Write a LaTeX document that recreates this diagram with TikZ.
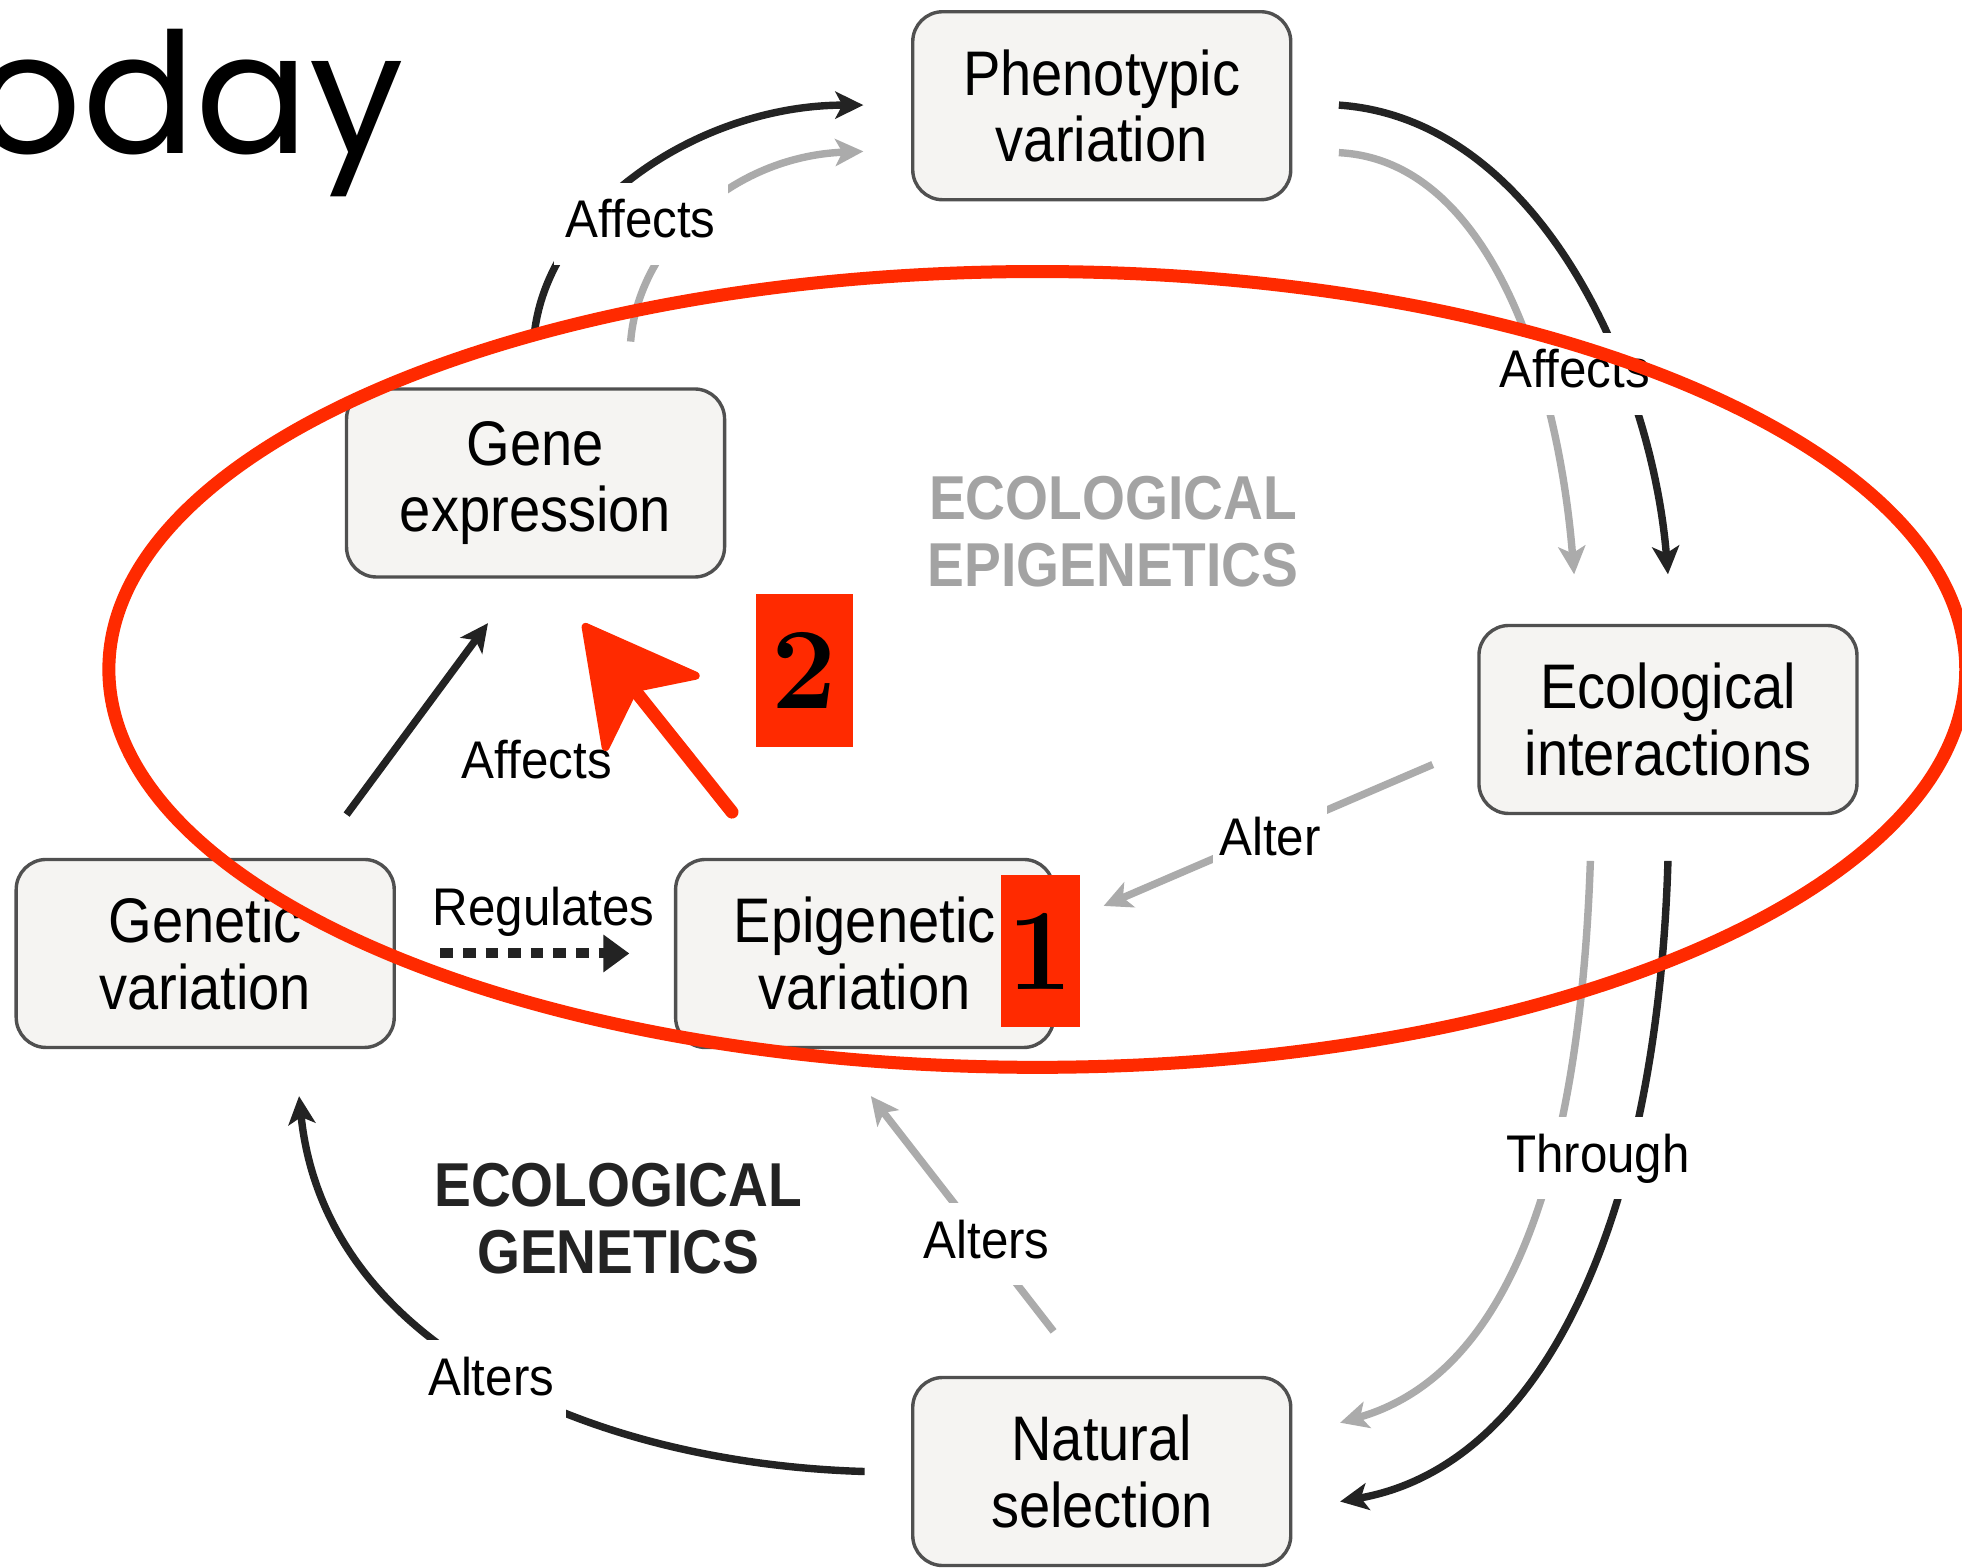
\documentclass[tikz,border=0pt]{standalone}
\usepackage{fontspec}
\newfontfamily\boxfont[FakeStretch=0.89]{Liberation Sans}
\newfontfamily\labfont[FakeStretch=0.93]{Liberation Sans}
\newfontfamily\popfont{Poppins}
\usetikzlibrary{arrows.meta}
\definecolor{blk}{HTML}{232323}
\definecolor{gry}{HTML}{ABABAB}
\definecolor{boxfill}{HTML}{F5F4F2}
\definecolor{boxdraw}{HTML}{505050}
\definecolor{epigray}{HTML}{A3A3A3}
\definecolor{redc}{HTML}{FF2A00}
\begin{document}
\begin{tikzpicture}[x=0.6256pt,y=-0.6256pt,
  box/.style={draw=boxdraw, line width=1.7pt, fill=boxfill, rounded corners=15pt,
    minimum width=189pt, minimum height=94pt, align=center, inner sep=0pt,
    font=\boxfont\fontsize{31.5}{33.2}\selectfont},
  lab/.style={font=\labfont\fontsize{26.5}{28}\selectfont, inner sep=0pt,
    text height=19.5pt, text depth=5.5pt},
  labw/.style={lab, fill=white, inner xsep=6pt, inner ysep=8pt},
  bigtxt/.style={font=\boxfont\bfseries\fontsize{31}{33.2}\selectfont, align=center, inner sep=0pt},
  tipS/.style={-{Stealth[length=14pt,width=13.5pt,inset=3.5pt]}},
  blkarrow/.style={draw=blk, line width=3.7pt, tipS},
  gryarrow/.style={draw=gry, line width=3.7pt, tipS},
  numbox/.style={fill=redc, inner sep=0pt, minimum height=76.3pt,
    font=\bfseries\fontsize{58}{58}\selectfont}
]
\fill[white] (0,0) rectangle (1568,1253);
\useasboundingbox (0,0) rectangle (1568,1253);

% title fragment
\node[anchor=base east, inner sep=0pt, font=\popfont\fontsize{84}{84}\selectfont] (title) at (323,123) {today};

% boxes
\node[box] (pheno)   at (880.5,84.5) {Phenotypic\\variation};
\node[box] (gene)    at (428,386)    {Gene\\expression};
\node[box] (eco)     at (1333,575)   {Ecological\\interactions};
\node[box] (genetic) at (164,762)    {Genetic\\variation};
\node[box] (epi)     at (691,762)    {Epigenetic\\variation};
\node[box] (nat)     at (880.5,1176) {Natural\\selection};

% connector end points
\coordinate (geneUpB) at (427,267);
\coordinate (geneUpG) at (504,273);
\coordinate (phenoInB) at (690,84);
\coordinate (phenoInG) at (690,121);
\coordinate (phenoOutB) at (1070,84);
\coordinate (phenoOutG) at (1070,122);
\coordinate (ecoInB) at (1333,459);
\coordinate (ecoInG) at (1258,459);
\coordinate (ecoOutB) at (1333,688);
\coordinate (ecoOutG) at (1271,688);
\coordinate (natInB) at (1071,1200);
\coordinate (natInG) at (1071,1137);
\coordinate (natOutB) at (691,1176);
\coordinate (natOutG) at (842,1064);
\coordinate (genInB) at (239,876);
\coordinate (epiInN) at (696,876);
\coordinate (ecoOutA) at (1145,611);
\coordinate (epiInE) at (882,724);
\coordinate (genOutN) at (277,651);
\coordinate (geneInB) at (390,498);
\coordinate (epiOutN) at (585,649);
\coordinate (geneInG) at (468,501);
\coordinate (genOutE) at (352,762);
\coordinate (epiInW) at (503,762);

% arrows
\draw[blkarrow] (geneUpB) .. controls (438,165) and (560,84) .. (phenoInB);
\draw[gryarrow] (geneUpG) .. controls (510,195) and (585,125) .. (phenoInG);
\draw[blkarrow] (phenoOutB) .. controls (1230,95) and (1320,300) .. (ecoInB);
\draw[gryarrow] (phenoOutG) .. controls (1190,128) and (1245,300) .. (ecoInG);
\draw[blkarrow] (ecoOutB) .. controls (1325,960) and (1240,1170) .. (natInB);
\draw[gryarrow] (ecoOutG) .. controls (1262,950) and (1200,1100) .. (natInG);
\draw[blkarrow] (natOutB) .. controls (480,1170) and (260,1080) .. (genInB);
\draw[gryarrow] (natOutG) -- (epiInN);
\draw[gryarrow] (ecoOutA) -- (epiInE);
\draw[blkarrow] (genOutN) -- (geneInB);
\draw[gryarrow] (epiOutN) -- (geneInG);
\draw[draw=blk, line width=5pt, dash pattern=on 6.3pt off 5pt,
  -{Triangle[length=13pt,width=18pt]}] (genOutE) -- (epiInW);

% labels
\node[labw, anchor=base] (l1) at (512,190) {Affects};
\node[labw, anchor=base, inner xsep=3pt] (l2) at (1258.5,310) {Affects};
\node[labw, anchor=base] (l3) at (1277,937) {Through};
\node[labw, anchor=base, inner xsep=3pt] (l4) at (1015,684) {Alter};
\node[labw, anchor=base] (l5) at (788.5,1005.5) {Alters};
\node[labw, anchor=base] (l6) at (392.5,1115) {Alters};
\node[lab, anchor=base] (l7) at (429,622) {Affects};
\node[lab, anchor=base] (l8) at (434.5,740) {Regulates};

% big labels
\node[bigtxt, text=epigray] (epitxt) at (889.5,425) {ECOLOGICAL\\EPIGENETICS};
\node[bigtxt, text=blk] (gentxt) at (494,974) {ECOLOGICAL\\GENETICS};

% red annotations
\draw[redc, line width=6.5pt] (829,535) ellipse [x radius=742, y radius=318];
\coordinate (redTip) at (468,501);
\coordinate (redJoin) at (507,550);
\coordinate (redTail) at (585,649);
\fill[redc, draw=redc, line width=4pt, line join=round]
  (redTip) -- (556,540) -- (redJoin) -- (484,597) -- cycle;
\draw[redc, line width=6.5pt, line cap=round] (490,530) -- (redTail);
\node[numbox, minimum width=48.8pt] (n2) at (643,536) {2};
\node[numbox, minimum width=39.4pt] (n1) at (831.5,760) {1};
\end{tikzpicture}
\end{document}
